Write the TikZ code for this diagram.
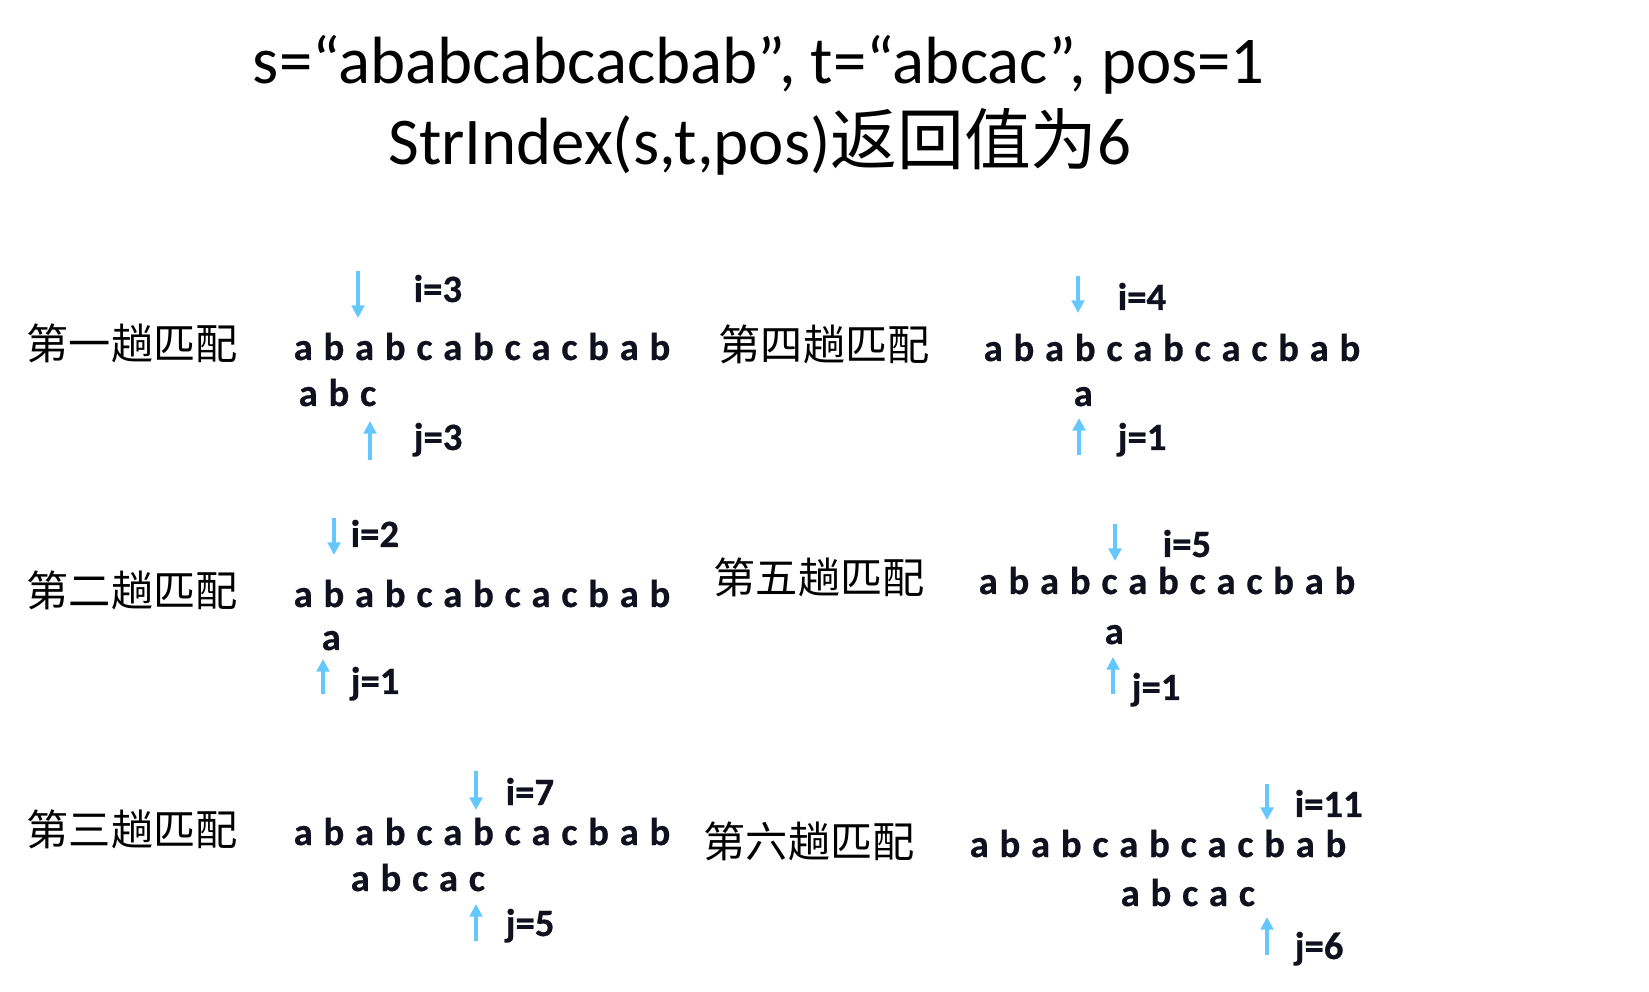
\documentclass[tikz,border=0pt]{standalone}
\usepackage{fontspec}
\setmainfont{Carlito}
\newfontfamily\cjk{Noto Sans CJK SC}
\newfontfamily\boldfont[BoldFeatures={FakeBold=0.6}]{Carlito}
\usetikzlibrary{arrows.meta}
\definecolor{ptrblue}{RGB}{100,200,255}
\definecolor{ink}{RGB}{16,16,30}
\tikzset{
  headline/.style={anchor=base,inner sep=0,font=\fontsize{19}{23}\selectfont},
  trip/.style={anchor=base west,inner sep=0,font=\cjk\fontsize{12}{14}\selectfont},
  chars/.style={anchor=base west,inner sep=0,text=ink,font={\boldfont\bfseries\fontsize{11}{13}\selectfont\spaceskip=3.05pt\relax}},
  idx/.style={anchor=base west,inner sep=0,text=ink,font=\boldfont\bfseries\fontsize{11}{13}\selectfont},
  ptr/.style={draw=ptrblue,line width=1pt,-{Triangle[length=3.6pt,width=3.6pt]}}
}
\begin{document}
\begin{tikzpicture}[x=0.01cm,y=-0.01cm]
  \useasboundingbox (0,0) rectangle (1649,992);

  \node[headline] (head1) at (759,84) {s=“ababcabcacbab”, t=“abcac”, pos=1};
  \node[headline] (head2) at (760,165) {StrIndex(s,t,pos){\cjk 返回值为}6};

  % left column
  \node[trip] (lab1) at (26,360) {第一趟匹配};
  \node[chars] (s1) at (293,360) {a b a b c a b c a c b a b};
  \node[chars] (t1) at (298,406) {a b c};
  \node[idx] (i1) at (413,302) {i=3};
  \node[idx] (j1) at (413,450) {j=3};
  \coordinate (i1a) at (358,271);
  \coordinate (i1b) at (358,318);
  \coordinate (j1a) at (370,460);
  \coordinate (j1b) at (370,421);

  \node[trip] (lab2) at (26,607) {第二趟匹配};
  \node[chars] (s2) at (293,607) {a b a b c a b c a c b a b};
  \node[chars] (t2) at (321,650) {a};
  \node[idx] (i2) at (350,547) {i=2};
  \node[idx] (j2) at (350,694) {j=1};
  \coordinate (i2a) at (334,518);
  \coordinate (i2b) at (334,555);
  \coordinate (j2a) at (323,694);
  \coordinate (j2b) at (323,659);

  \node[trip] (lab3) at (26,845) {第三趟匹配};
  \node[chars] (s3) at (293,845) {a b a b c a b c a c b a b};
  \node[chars] (t3) at (350,891) {a b c a c};
  \node[idx] (i3) at (505,805) {i=7};
  \node[idx] (j3) at (505,936) {j=5};
  \coordinate (i3a) at (476,771);
  \coordinate (i3b) at (476,810);
  \coordinate (j3a) at (476,941);
  \coordinate (j3b) at (476,904);

  % right column
  \node[trip] (lab4) at (718,361) {第四趟匹配};
  \node[chars] (s4) at (983,361) {a b a b c a b c a c b a b};
  \node[chars] (t4) at (1073,406) {a};
  \node[idx] (i4) at (1117,310) {i=4};
  \node[idx] (j4) at (1117,450) {j=1};
  \coordinate (i4a) at (1078,276);
  \coordinate (i4b) at (1078,313);
  \coordinate (j4a) at (1079,455);
  \coordinate (j4b) at (1079,418);

  \node[trip] (lab5) at (713,594) {第五趟匹配};
  \node[chars] (s5) at (978,594) {a b a b c a b c a c b a b};
  \node[chars] (t5) at (1104,644) {a};
  \node[idx] (i5) at (1162,557) {i=5};
  \node[idx] (j5) at (1131,700) {j=1};
  \coordinate (i5a) at (1115,524);
  \coordinate (i5b) at (1115,561);
  \coordinate (j5a) at (1113,694);
  \coordinate (j5b) at (1113,657);

  \node[trip] (lab6) at (703,857) {第六趟匹配};
  \node[chars] (s6) at (969,857) {a b a b c a b c a c b a b};
  \node[chars] (t6) at (1120,906) {a b c a c};
  \node[idx] (i6) at (1294,817) {i=11};
  \node[idx] (j6) at (1294,959) {j=6};
  \coordinate (i6a) at (1267,784);
  \coordinate (i6b) at (1267,820);
  \coordinate (j6a) at (1267,955);
  \coordinate (j6b) at (1267,917);

  \draw[ptr] (i1a) -- (i1b);
  \draw[ptr] (j1a) -- (j1b);
  \draw[ptr] (i2a) -- (i2b);
  \draw[ptr] (j2a) -- (j2b);
  \draw[ptr] (i3a) -- (i3b);
  \draw[ptr] (j3a) -- (j3b);
  \draw[ptr] (i4a) -- (i4b);
  \draw[ptr] (j4a) -- (j4b);
  \draw[ptr] (i5a) -- (i5b);
  \draw[ptr] (j5a) -- (j5b);
  \draw[ptr] (i6a) -- (i6b);
  \draw[ptr] (j6a) -- (j6b);

\end{tikzpicture}
\end{document}
